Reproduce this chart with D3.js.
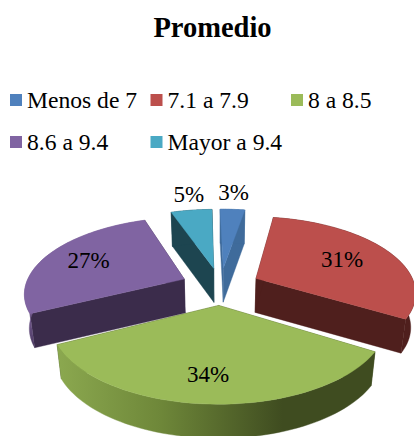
<!DOCTYPE html>
<html>
<head>
<meta charset="utf-8">
<script src="https://cdn.jsdelivr.net/npm/d3@7"></script>
<style>
html,body{margin:0;padding:0;background:#fff;overflow:hidden}
svg{display:block}
text{font-family:"Liberation Serif","Times New Roman",serif;fill:#000}
</style>
</head>
<body>
<svg id="c" width="414" height="436"></svg>
<script>
const title = "Promedio";
const categories = ["Menos de 7","7.1 a 7.9","8 a 8.5","8.6 a 9.4","Mayor a 9.4"];
const values = [3,31,34,27,5];
const topColors = ["#4f81bd","#bc4f4c","#9bbb59","#8064a2","#4aa9c4"];
const wallColors = ["#3f6b9b","#4f1f1d","#3f4c20","#3b2c4b","#1d4550"];

const W = 414, H = 436;
const svg = d3.select("#c");
const color = d3.scaleOrdinal(categories, topColors);
const wall = d3.scaleOrdinal(categories, wallColors);

const defs = svg.append("defs");
const greenGrad = defs.append("linearGradient").attr("id","greenSide")
  .attr("gradientUnits","userSpaceOnUse").attr("x1",58).attr("x2",370).attr("y1",0).attr("y2",0);
[[0,"#8ba84f"],[0.33,"#6e8739"],[0.72,"#3f4c20"],[1,"#3f4c20"]].forEach(s =>
  greenGrad.append("stop").attr("offset",s[0]).attr("stop-color",s[1]));
const purpleGrad = defs.append("linearGradient").attr("id","purpleSide")
  .attr("gradientUnits","userSpaceOnUse").attr("x1",0).attr("x2",0).attr("y1",285).attr("y2",347);
[[0,"#7d6399"],[0.55,"#6f5689"],[1,"#4a3860"]].forEach(s =>
  purpleGrad.append("stop").attr("offset",s[0]).attr("stop-color",s[1]));

// Perspective of the plate
const cx = 220.5, cy = 286, persp = 0.17, explode = 0.25, depth = 34, bottomScale = 0.975;
const firstAngle = -1.2*Math.PI/180;
const labelRadius = [1.35,0.645,0.74,0.7,1.32];
const labelTurn = [-0.5,0,1.8,0,1.2].map(d=>d*Math.PI/180);
const sx = d3.scaleLinear().domain([-1,1]).range([cx-159,cx+159]);
const sy = d3.scaleLinear().domain([-1,1]).range([cy+74.5,cy-74.5]);
function project(X,Y,low){
  const d = 1 + persp*Y;
  let x = sx(X/d), y = sy(Y/d);
  if(low){ x = cx + (x-cx)*bottomScale; y += depth; }
  return [x,y];
}

const pie = d3.pie().sort(null).value(d=>d).startAngle(firstAngle).endAngle(firstAngle+2*Math.PI)(values);
const line = d3.line();

const slices = pie.map((p,i)=>{
  const mid = (p.startAngle+p.endAngle)/2;
  const ox = explode*Math.sin(mid), oy = explode*Math.cos(mid);
  const rim = d3.range(0,61).map(k=>{
    const a = p.startAngle + (p.endAngle-p.startAngle)*k/60;
    return [ox+Math.sin(a), oy+Math.cos(a)];
  });
  return {i,mid,ox,oy,rim,name:categories[i],value:values[i]};
});

const g = svg.append("g");
function poly(parent,pts,fill){
  return parent.append("path").attr("d",line(pts)+"Z").attr("fill",fill).attr("stroke",fill).attr("stroke-width",0.4);
}
// Back slices first, green plate last
[4,0,3,1,2].forEach(i=>{
  const s = slices[i], n = s.rim.length-1;
  const apex = [s.ox,s.oy];
  const wallFace = q => [project(apex[0],apex[1]),project(q[0],q[1]),project(q[0],q[1],true),project(apex[0],apex[1],true)];
  const c = wall(s.name);
  poly(g,wallFace(s.rim[n]),c);
  poly(g,wallFace(s.rim[0]),c);
  const up = s.rim.map(q=>project(q[0],q[1]));
  const lo = s.rim.map(q=>project(q[0],q[1],true)).reverse();
  const side = s.name===categories[2] ? "url(#greenSide)" : s.name===categories[3] ? "url(#purpleSide)" : c;
  poly(g,up.concat(lo),side);
  poly(g,[project(apex[0],apex[1])].concat(up),color(s.name));
});

// Percent labels
const labelPos = d => {
  const a = d.mid + labelTurn[d.i], r = labelRadius[d.i];
  return project(d.ox+r*Math.sin(a), d.oy+r*Math.cos(a));
};
svg.append("g").selectAll("text").data(slices).join("text")
  .attr("text-anchor","middle").attr("font-size",23).attr("dominant-baseline","central")
  .attr("x",d=>labelPos(d)[0])
  .attr("y",d=>labelPos(d)[1])
  .text(d=>d.value+"%");

// Title
svg.append("text").attr("x",212.5).attr("y",37).attr("text-anchor","middle")
  .attr("font-size",28.5).attr("font-weight","bold").text(title);

// Legend
const colX = d3.scalePoint().domain([0,1,2]).range([10,291]);
const rowY = d3.scalePoint().domain([0,1]).range([94,136]);
const lg = svg.append("g").selectAll("g").data(categories).join("g")
  .attr("transform",(d,i)=>`translate(${colX(i%3)},${rowY(Math.floor(i/3))})`);
lg.append("rect").attr("width",12).attr("height",12).attr("fill",d=>color(d));
lg.append("text").attr("x",17).attr("y",14).attr("font-size",23.6).text(d=>d);
</script>
</body>
</html>
